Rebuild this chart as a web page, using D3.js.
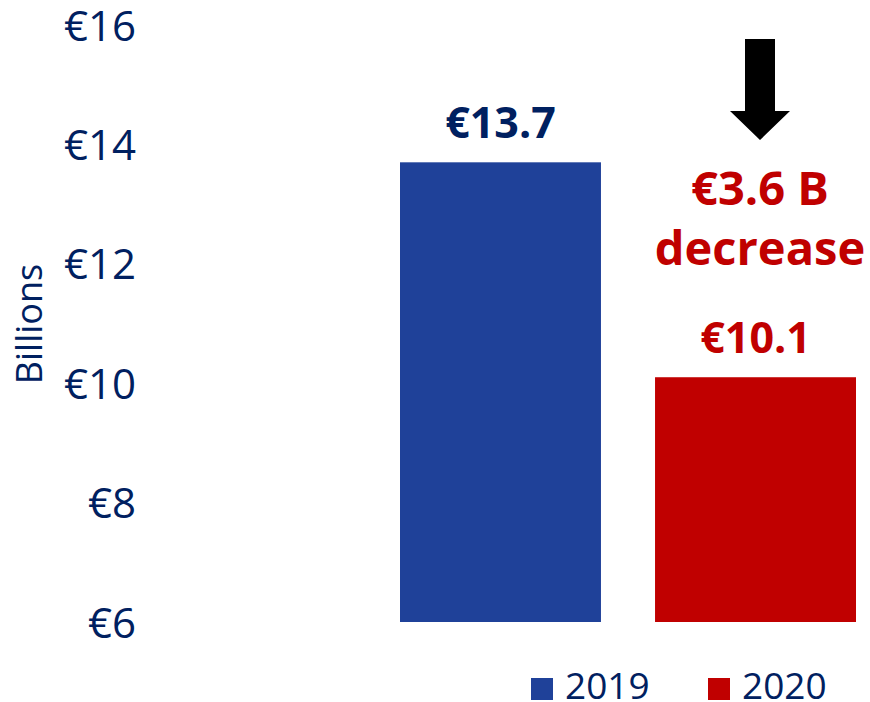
<!DOCTYPE html>
<html><head><meta charset="utf-8">
<script src="https://cdn.jsdelivr.net/npm/d3@7"></script>
<style>body{margin:0;background:#fff}svg{display:block}text{font-family:"Open Sans",sans-serif}</style>
</head><body>
<svg id="c" width="870" height="702"></svg>
<script>
const categories = ["2019", "2020"];
const values = [13.7, 10.1];
const valueLabels = ["€13.7", "€10.1"];
const colors = ["#1F4199", "#C00000"];
const labelColors = ["#002060", "#C00000"];
const tickValues = [6, 8, 10, 12, 14, 16];
const annotation = ["€3.6 B", "decrease"];

const svg = d3.select("#c");
const y = d3.scaleLinear().domain([6, 16]).range([622, 25]);
const x = d3.scaleBand().domain(categories).range([400, 856]).paddingInner(0.212).paddingOuter(0);

const axis = d3.axisLeft(y).tickValues(tickValues).tickFormat(d => "€" + d).tickSize(0).tickPadding(0);
const ag = svg.append("g").attr("transform", "translate(136,0)").call(axis);
ag.select(".domain").remove();
ag.selectAll("text").attr("font-size", 42).attr("fill", "#002060").attr("font-family", "Open Sans").attr("dy", "0.36em");

svg.append("text").attr("transform", "translate(42,324) rotate(-90)")
  .attr("text-anchor", "middle").attr("font-size", 36).attr("fill", "#002060").text("Billions");

svg.selectAll("rect.bar").data(values).join("rect").attr("class", "bar")
  .attr("x", (d, i) => x(categories[i])).attr("width", x.bandwidth())
  .attr("y", d => y(d)).attr("height", d => y(6) - y(d))
  .attr("fill", (d, i) => colors[i]);

svg.selectAll("text.val").data(values).join("text").attr("class", "val")
  .attr("x", (d, i) => x(categories[i]) + x.bandwidth() / 2)
  .attr("y", d => y(d) - 24)
  .attr("text-anchor", "middle").attr("font-size", 43).attr("font-weight", 700)
  .attr("fill", (d, i) => labelColors[i]).text((d, i) => valueLabels[i]);

// annotation
const ax = 760;
svg.append("path").attr("fill", "#000")
  .attr("d", `M${ax-15},39 L${ax+15},39 L${ax+15},111 L${ax+30},111 L${ax},140 L${ax-30},111 L${ax-15},111 Z`);
svg.selectAll("text.ann").data(annotation).join("text").attr("class", "ann")
  .attr("x", ax).attr("y", (d, i) => 205 + i * 60)
  .attr("text-anchor", "middle").attr("font-size", 47).attr("font-weight", 700)
  .attr("fill", "#C00000").text(d => d);

// legend
const lg = svg.append("g");
const lx = [531, 708];
categories.forEach((c, i) => {
  lg.append("rect").attr("x", lx[i]).attr("y", 678).attr("width", 22).attr("height", 22).attr("fill", colors[i]);
  lg.append("text").attr("x", lx[i] + 34).attr("y", 699).attr("font-size", 37).attr("fill", "#002060").text(c);
});
</script>
</body></html>
